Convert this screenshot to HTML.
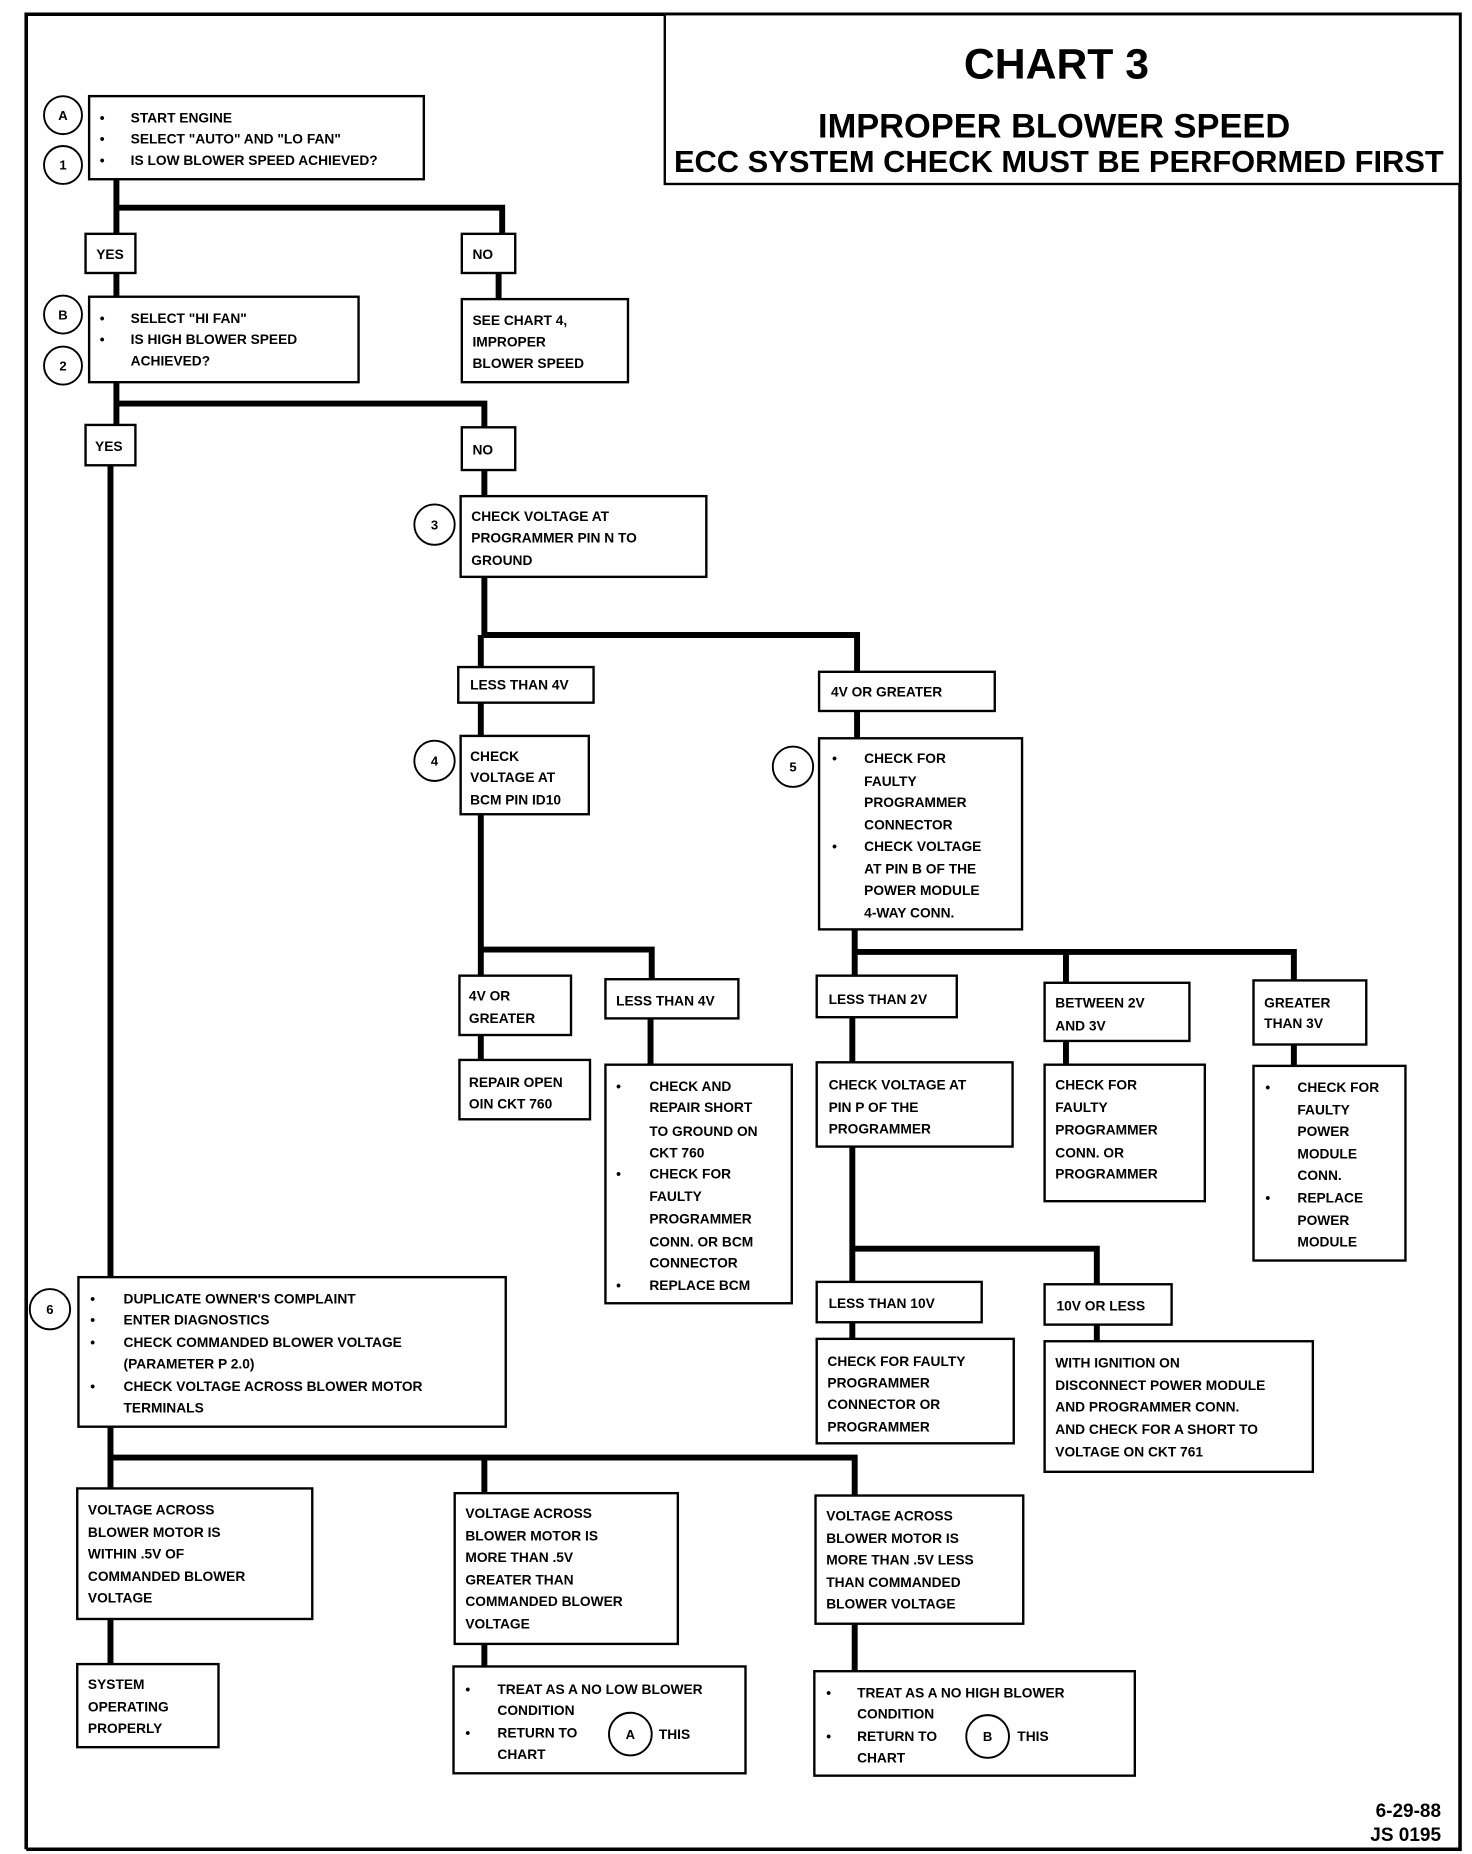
<!DOCTYPE html>
<html><head><meta charset="utf-8"><style>
html,body{margin:0;padding:0;background:#fff;}
svg{display:block;}
text{font-family:"Liberation Sans",sans-serif;font-weight:bold;font-size:11.6px;fill:#000;}
.t{font-size:11.6px;}
rect{fill:#fff;stroke:#000;stroke-width:2;}
.l{stroke:#000;stroke-width:5;fill:none;}
circle{fill:#fff;stroke:#000;stroke-width:1.6;}
.c{font-size:11px;text-anchor:middle;}
</style></head><body>
<svg width="1472" height="1854" viewBox="0 0 1240 1562" xmlns="http://www.w3.org/2000/svg">
<!-- border -->
<path d="M22 1558 L22 12 L1230 12 L1230 1558 L22 1558" fill="none" stroke="#000" stroke-width="3"/>
<!-- connectors -->
<path class="l" d="M98 151 V175 H423 V197 M98 175 V197 M98 230 V250 M420 230 V252"/>
<path class="l" d="M98 322 V340 H408 V360 M98 340 V358 M93 392 V1076 M408 396 V418"/>
<path class="l" d="M408 486 V535 H722 V566 M405 535 V562 M405 592 V620 M722 599 V622"/>
<path class="l" d="M405 686 V800 H549 V825 M405 800 V822 M405 872 V893 M548 858 V897"/>
<path class="l" d="M720 783 V802 H1090 V826 M720 802 V822 M898 802 V828 M718 857 V895 M898 877 V897 M1090 880 V898"/>
<path class="l" d="M718 966 V1052 H924 V1082 M718 1052 V1080 M718 1114 V1128 M924 1116 V1130"/>
<path class="l" d="M93 1202 V1228 H720 V1260 M93 1228 V1254 M408 1228 V1258 M93 1364 V1402 M408 1385 V1404 M720 1368 V1408"/>
<!-- title -->
<rect x="560" y="12" width="670" height="143"/>
<text x="890" y="66" style="font-size:36px;text-anchor:middle">CHART 3</text>
<text x="888" y="116" style="font-size:29px;text-anchor:middle">IMPROPER BLOWER SPEED</text>
<text x="892" y="145" style="font-size:26px;text-anchor:middle">ECC SYSTEM CHECK MUST BE PERFORMED FIRST</text>
<!-- A1 -->
<rect x="75" y="81" width="282" height="70"/>
<text x="84" y="103">•</text><text x="110" y="103">START ENGINE</text>
<text x="84" y="121">•</text><text x="110" y="121">SELECT "AUTO" AND "LO FAN"</text>
<text x="84" y="139">•</text><text x="110" y="139">IS LOW BLOWER SPEED ACHIEVED?</text>
<circle cx="53" cy="97" r="16"/><text class="c" x="53" y="101">A</text>
<circle cx="53" cy="139" r="16"/><text class="c" x="53" y="143">1</text>
<rect x="72" y="197" width="42" height="33"/><text x="81" y="218">YES</text>
<rect x="389" y="197" width="45" height="33"/><text x="398" y="218">NO</text>
<!-- B2 -->
<rect x="75" y="250" width="227" height="72"/>
<text x="84" y="272">•</text><text x="110" y="272">SELECT "HI FAN"</text>
<text x="84" y="290">•</text><text x="110" y="290">IS HIGH BLOWER SPEED</text>
<text x="110" y="308">ACHIEVED?</text>
<circle cx="53" cy="265" r="16"/><text class="c" x="53" y="269">B</text>
<circle cx="53" cy="308" r="16"/><text class="c" x="53" y="312">2</text>
<rect x="389" y="252" width="140" height="70"/>
<text x="398" y="274">SEE CHART 4,</text><text x="398" y="292">IMPROPER</text><text x="398" y="310">BLOWER SPEED</text>
<rect x="72" y="358" width="42" height="34"/><text x="80" y="380">YES</text>
<rect x="389" y="360" width="45" height="36"/><text x="398" y="383">NO</text>
<!-- 3 -->
<rect x="388" y="418" width="207" height="68"/>
<text x="397" y="439">CHECK VOLTAGE AT</text><text x="397" y="457">PROGRAMMER PIN N TO</text><text x="397" y="476">GROUND</text>
<circle cx="366" cy="442" r="17"/><text class="c" x="366" y="446">3</text>
<rect x="386" y="562" width="114" height="30"/><text x="396" y="581">LESS THAN 4V</text>
<rect x="690" y="566" width="148" height="33"/><text x="700" y="587">4V OR GREATER</text>
<!-- 4 -->
<rect x="388" y="620" width="108" height="66"/>
<text x="396" y="641">CHECK</text><text x="396" y="659">VOLTAGE AT</text><text x="396" y="678">BCM PIN ID10</text>
<circle cx="366" cy="641" r="17"/><text class="c" x="366" y="645">4</text>
<!-- 5 -->
<rect x="690" y="622" width="171" height="161"/>
<text x="701" y="643">•</text><text x="728" y="643">CHECK FOR</text>
<text x="728" y="662">FAULTY</text><text x="728" y="680">PROGRAMMER</text><text x="728" y="699">CONNECTOR</text>
<text x="701" y="717">•</text><text x="728" y="717">CHECK VOLTAGE</text>
<text x="728" y="736">AT PIN B OF THE</text><text x="728" y="754">POWER MODULE</text><text x="728" y="773">4-WAY CONN.</text>
<circle cx="668" cy="646" r="17"/><text class="c" x="668" y="650">5</text>
<!-- level under 4 -->
<rect x="387" y="822" width="94" height="50"/><text x="395" y="843">4V OR</text><text x="395" y="862">GREATER</text>
<rect x="510" y="825" width="112" height="33"/><text x="519" y="847">LESS THAN 4V</text>
<rect x="387" y="893" width="110" height="50"/><text x="395" y="916">REPAIR OPEN</text><text x="395" y="934">OIN CKT 760</text>
<rect x="510" y="897" width="157" height="201"/>
<text x="519" y="919">•</text><text x="547" y="919">CHECK AND</text>
<text x="547" y="937">REPAIR SHORT</text><text x="547" y="957">TO GROUND ON</text><text x="547" y="975">CKT 760</text>
<text x="519" y="993">•</text><text x="547" y="993">CHECK FOR</text>
<text x="547" y="1012">FAULTY</text><text x="547" y="1031">PROGRAMMER</text><text x="547" y="1050">CONN. OR BCM</text><text x="547" y="1068">CONNECTOR</text>
<text x="519" y="1087">•</text><text x="547" y="1087">REPLACE BCM</text>
<!-- level under 5 -->
<rect x="688" y="822" width="118" height="35"/><text x="698" y="846">LESS THAN 2V</text>
<rect x="880" y="828" width="122" height="49"/><text x="889" y="849">BETWEEN 2V</text><text x="889" y="868">AND 3V</text>
<rect x="1056" y="826" width="95" height="54"/><text x="1065" y="849">GREATER</text><text x="1065" y="866">THAN 3V</text>
<rect x="688" y="895" width="165" height="71"/><text x="698" y="918">CHECK VOLTAGE AT</text><text x="698" y="937">PIN P OF THE</text><text x="698" y="955">PROGRAMMER</text>
<rect x="880" y="897" width="135" height="115"/>
<text x="889" y="918">CHECK FOR</text><text x="889" y="937">FAULTY</text><text x="889" y="956">PROGRAMMER</text><text x="889" y="975">CONN. OR</text><text x="889" y="993">PROGRAMMER</text>
<rect x="1056" y="898" width="128" height="164"/>
<text x="1066" y="920">•</text><text x="1093" y="920">CHECK FOR</text>
<text x="1093" y="939">FAULTY</text><text x="1093" y="957">POWER</text><text x="1093" y="976">MODULE</text><text x="1093" y="994">CONN.</text>
<text x="1066" y="1013">•</text><text x="1093" y="1013">REPLACE</text>
<text x="1093" y="1032">POWER</text><text x="1093" y="1050">MODULE</text>
<rect x="688" y="1080" width="139" height="34"/><text x="698" y="1102">LESS THAN 10V</text>
<rect x="880" y="1082" width="107" height="34"/><text x="890" y="1104">10V OR LESS</text>
<rect x="688" y="1128" width="166" height="88"/>
<text x="697" y="1151">CHECK FOR FAULTY</text><text x="697" y="1169">PROGRAMMER</text><text x="697" y="1187">CONNECTOR OR</text><text x="697" y="1206">PROGRAMMER</text>
<rect x="880" y="1130" width="226" height="110"/>
<text x="889" y="1152">WITH IGNITION ON</text><text x="889" y="1171">DISCONNECT POWER MODULE</text><text x="889" y="1189">AND PROGRAMMER CONN.</text><text x="889" y="1208">AND CHECK FOR A SHORT TO</text><text x="889" y="1227">VOLTAGE ON CKT 761</text>
<!-- 6 -->
<rect x="66" y="1076" width="360" height="126"/>
<text x="76" y="1098">•</text><text x="104" y="1098">DUPLICATE OWNER'S COMPLAINT</text>
<text x="76" y="1116">•</text><text x="104" y="1116">ENTER DIAGNOSTICS</text>
<text x="76" y="1135">•</text><text x="104" y="1135">CHECK COMMANDED BLOWER VOLTAGE</text>
<text x="104" y="1153">(PARAMETER P 2.0)</text>
<text x="76" y="1172">•</text><text x="104" y="1172">CHECK VOLTAGE ACROSS BLOWER MOTOR</text>
<text x="104" y="1190">TERMINALS</text>
<circle cx="42" cy="1103" r="17"/><text class="c" x="42" y="1107">6</text>
<!-- bottom -->
<rect x="65" y="1254" width="198" height="110"/>
<text x="74" y="1276">VOLTAGE ACROSS</text><text x="74" y="1295">BLOWER MOTOR IS</text><text x="74" y="1313">WITHIN .5V OF</text><text x="74" y="1332">COMMANDED BLOWER</text><text x="74" y="1350">VOLTAGE</text>
<rect x="383" y="1258" width="188" height="127"/>
<text x="392" y="1279">VOLTAGE ACROSS</text><text x="392" y="1298">BLOWER MOTOR IS</text><text x="392" y="1316">MORE THAN .5V</text><text x="392" y="1335">GREATER THAN</text><text x="392" y="1353">COMMANDED BLOWER</text><text x="392" y="1372">VOLTAGE</text>
<rect x="687" y="1260" width="175" height="108"/>
<text x="696" y="1281">VOLTAGE ACROSS</text><text x="696" y="1300">BLOWER MOTOR IS</text><text x="696" y="1318">MORE THAN .5V LESS</text><text x="696" y="1337">THAN COMMANDED</text><text x="696" y="1355">BLOWER VOLTAGE</text>
<rect x="65" y="1402" width="119" height="70"/>
<text x="74" y="1423">SYSTEM</text><text x="74" y="1442">OPERATING</text><text x="74" y="1460">PROPERLY</text>
<rect x="382" y="1404" width="246" height="90"/>
<text x="392" y="1427">•</text><text x="419" y="1427">TREAT AS A NO LOW BLOWER</text>
<text x="419" y="1445">CONDITION</text>
<text x="392" y="1464">•</text><text x="419" y="1464">RETURN TO</text>
<text x="419" y="1482">CHART</text>
<circle cx="531" cy="1461" r="18"/><text class="c" x="531" y="1465">A</text><text x="555" y="1465">THIS</text>
<rect x="686" y="1408" width="270" height="88"/>
<text x="696" y="1430">•</text><text x="722" y="1430">TREAT AS A NO HIGH  BLOWER</text>
<text x="722" y="1448">CONDITION</text>
<text x="696" y="1467">•</text><text x="722" y="1467">RETURN TO</text>
<text x="722" y="1485">CHART</text>
<circle cx="832" cy="1463" r="18"/><text class="c" x="832" y="1467">B</text><text x="857" y="1467">THIS</text>
<text x="1214" y="1531" style="font-size:16px;text-anchor:end">6-29-88</text>
<text x="1214" y="1551" style="font-size:16px;text-anchor:end">JS 0195</text>
</svg>
</body></html>
